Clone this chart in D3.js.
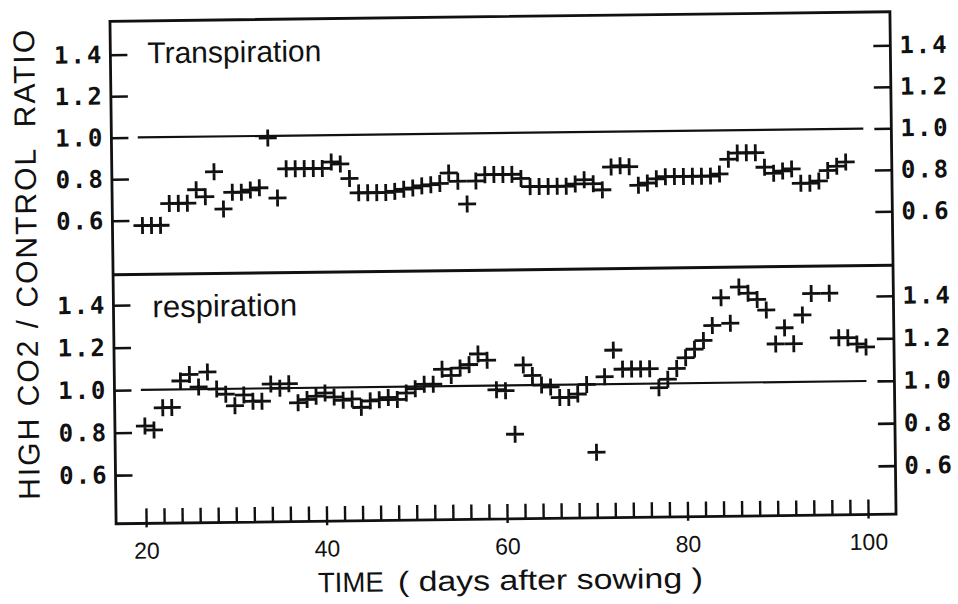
<!DOCTYPE html>
<html>
<head>
<meta charset="utf-8">
<script src="https://cdn.jsdelivr.net/npm/d3@7"></script>
<style>
  html, body { margin: 0; padding: 0; background: #fff; }
  svg { display: block; }
</style>
</head>
<body>
<svg id="chart" width="958" height="604"></svg>
<script>
// Days after sowing for each daily reading
const transDays = [20,21,22,23,24,25,26,27,28,29,30,31,32,33,34,35,36,37,38,39,40,41,42,43,44,45,46,47,48,49,
  50,51,52,53,54,55,56,57,58,59,60,61,62,63,64,65,66,67,68,69,70,71,72,73,74,75,76,77,78,79,
  80,81,82,83,84,85,86,87,88,89,90,91,92,93,94,95,96,97,98];
// High CO2 / control ratio of transpiration
const transRatio = [0.575,0.575,0.575,0.68,0.68,0.68,0.745,0.71,0.83,0.65,0.73,0.73,0.74,0.75,0.99,0.70,0.84,0.84,0.84,0.84,
  0.84,0.87,0.86,0.79,0.72,0.72,0.72,0.72,0.725,0.735,0.74,0.75,0.755,0.76,0.81,0.77,0.66,0.77,0.80,0.80,
  0.80,0.80,0.78,0.74,0.74,0.74,0.74,0.74,0.75,0.77,0.75,0.72,0.83,0.835,0.83,0.74,0.75,0.77,0.78,0.78,
  0.78,0.78,0.78,0.78,0.79,0.86,0.89,0.89,0.89,0.82,0.79,0.80,0.81,0.74,0.74,0.75,0.80,0.82,0.84];

const respDays = [20,21,22,23,24,25,26,27,28,29,30,31,32,33,34,35,36,37,38,39,40,41,42,43,44,45,46,47,48,49,
  50,51,52,53,54,55,56,57,58,59,60,61,62,63,64,65,66,67,68,69,70,71,72,73,74,75,76,77,78,79,
  80,81,82,83,84,85,86,87,88,89,90,91,92,93,94,96,97,98,99,100];
// High CO2 / control ratio of respiration
const respRatio = [0.83,0.81,0.915,0.915,1.04,1.07,1.01,1.08,1.00,0.975,0.92,0.97,0.94,0.94,1.02,1.00,1.02,0.93,0.945,0.96,
  0.975,0.955,0.94,0.945,0.905,0.935,0.94,0.95,0.94,0.97,0.99,1.01,1.01,1.08,1.05,1.085,1.10,1.15,1.12,0.98,
  0.975,0.77,1.095,1.045,1.00,0.99,0.94,0.94,0.955,1.00,0.68,1.035,1.16,1.07,1.07,1.07,1.07,0.98,1.02,1.07,
  1.12,1.16,1.20,1.27,1.40,1.28,1.45,1.42,1.39,1.34,1.18,1.255,1.18,1.315,1.415,1.415,1.205,1.205,1.175,1.16];

const yTickValues = [0.6, 0.8, 1.0, 1.2, 1.4];
const xTickLabels = [20, 40, 60, 80, 100];
const refLevel = 1.0;          // equal-ratio reference line
const refSpan = [19.6, 100];   // days covered by the reference line
const panelNames = ["Transpiration", "respiration"];
const yTitle = "HIGH CO2 / CONTROL  RATIO";
const xTitle = ["TIME", "( days after sowing )"];

// ---- layout ----
const frame = { left: 113, right: 893, top: 16.5, mid: 270, bottom: 519 };
const svg = d3.select("#chart");
svg.append("rect").attr("width", 958).attr("height", 604).attr("fill", "#fff");

// the whole plate sits slightly askew on the page
const g = svg.append("g").attr("transform", "rotate(-0.7, 503, 267)");

const x = d3.scaleLinear().domain([20, 100]).range([143, 865]);
const yTop = d3.scaleLinear().domain([0.6, 1.4]).range([216, 50]);
const yBot = d3.scaleLinear().domain([0.6, 1.4]).range([470.4, 300.5]);

const ink = "#111";
const numFont = "'DejaVu Sans Mono', monospace";
const textFont = "'Liberation Sans', Arial, sans-serif";

// frame and panel divider
g.append("rect")
  .attr("x", frame.left).attr("y", frame.top)
  .attr("width", frame.right - frame.left).attr("height", frame.bottom - frame.top)
  .attr("fill", "none").attr("stroke", ink).attr("stroke-width", 2.8);
g.append("line")
  .attr("x1", frame.left).attr("x2", frame.right)
  .attr("y1", frame.mid).attr("y2", frame.mid)
  .attr("stroke", ink).attr("stroke-width", 3);

function styleAxis(sel) {
  sel.select(".domain").remove();
  sel.selectAll(".tick line").attr("stroke", ink).attr("stroke-width", 2.6);
  sel.selectAll(".tick text")
    .attr("fill", ink)
    .style("font-family", numFont)
    .style("font-weight", "bold")
    .style("font-size", "24px")
    .style("letter-spacing", "2px");
}

const fmt = d3.format(".1f");
[yTop, yBot].forEach(y => {
  g.append("g")
    .attr("transform", `translate(${frame.left},0)`)
    .call(d3.axisLeft(y).tickValues(yTickValues).tickSize(-17).tickPadding(7).tickFormat(fmt))
    .call(styleAxis);
  g.append("g")
    .attr("transform", `translate(${frame.right},0)`)
    .call(d3.axisRight(y).tickValues(yTickValues).tickSize(-17).tickPadding(9).tickFormat(fmt))
    .call(styleAxis);
});

// bottom time axis: a tick every second day, labels every twenty
const xAxis = g.append("g")
  .attr("transform", `translate(0,${frame.bottom})`)
  .call(d3.axisBottom(x)
    .tickValues(d3.range(20, 101, 2))
    .tickSize(-15)
    .tickPadding(19)
    .tickFormat(d => xTickLabels.includes(d) ? d : ""));
xAxis.select(".domain").remove();
xAxis.selectAll(".tick line")
  .attr("stroke", ink).attr("stroke-width", 2.4)
  .attr("y1", d => xTickLabels.includes(d) ? 4 : 0);   // labelled ticks poke through the baseline
xAxis.selectAll(".tick text")
  .attr("fill", ink)
  .style("font-family", "'Liberation Sans Narrow', 'Liberation Sans', sans-serif")
  .style("font-size", "23px");

// reference lines at ratio 1.0
[yTop, yBot].forEach(y => {
  g.append("line")
    .attr("x1", x(refSpan[0])).attr("x2", x(refSpan[1]))
    .attr("y1", y(refLevel)).attr("y2", y(refLevel))
    .attr("stroke", ink).attr("stroke-width", 2.2);
});

// plus-sign markers
const cross = "M-9,0H9M0,-8.5V8.5";
function drawSeries(days, vals, y) {
  g.append("g").selectAll("path")
    .data(days.map((d, i) => [d, vals[i]]))
    .join("path")
    .attr("d", cross)
    .attr("transform", d => `translate(${x(d[0])},${y(d[1])})`)
    .attr("fill", "none").attr("stroke", ink).attr("stroke-width", 2.8);
}
drawSeries(transDays, transRatio, yTop);
drawSeries(respDays, respRatio, yBot);

// panel names
g.append("text").attr("x", 150).attr("y", 59).text(panelNames[0])
  .attr("fill", ink).style("font-family", textFont).style("font-size", "30px");
g.append("text").attr("x", 152).attr("y", 313).text(panelNames[1])
  .attr("fill", ink).style("font-family", textFont).style("font-size", "31px");

// axis titles
g.append("text")
  .attr("transform", "translate(37,259) rotate(-90)")
  .attr("text-anchor", "middle")
  .attr("fill", ink)
  .style("font-family", textFont).style("font-size", "30px")
  .style("white-space", "pre")
  .attr("textLength", 470)
  .text(yTitle);
g.append("text").attr("x", 314).attr("y", 590).text(xTitle[0])
  .attr("fill", ink).style("font-family", textFont).style("font-size", "28px")
  .attr("textLength", 66).attr("lengthAdjust", "spacingAndGlyphs");
g.append("text").attr("x", 394).attr("y", 590).text(xTitle[1])
  .attr("fill", ink).style("font-family", textFont).style("font-size", "28px")
  .style("white-space", "pre")
  .attr("textLength", 305).attr("lengthAdjust", "spacingAndGlyphs");
</script>
</body>
</html>
